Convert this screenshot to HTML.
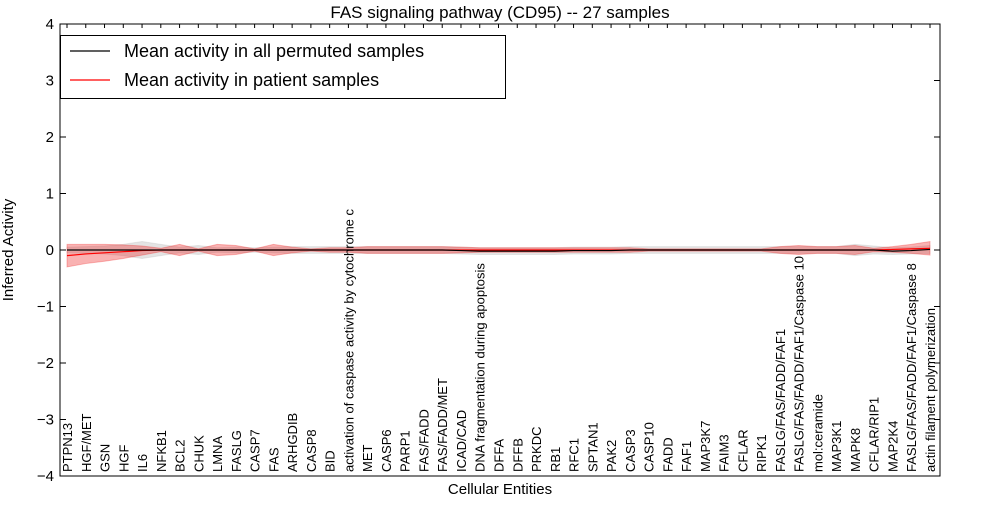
<!DOCTYPE html>
<html><head><meta charset="utf-8"><style>
body{margin:0;background:#fff;width:1000px;height:500px;overflow:hidden}
svg{font-family:"Liberation Sans","DejaVu Sans",sans-serif}
</style></head><body>
<svg id="chart" width="1000" height="500"></svg>
<script>
const categories=["PTPN13","HGF/MET","GSN","HGF","IL6","NFKB1","BCL2","CHUK","LMNA","FASLG","CASP7","FAS","ARHGDIB","CASP8","BID","activation of caspase activity by cytochrome c","MET","CASP6","PARP1","FAS/FADD","FAS/FADD/MET","ICAD/CAD","DNA fragmentation during apoptosis","DFFA","DFFB","PRKDC","RB1","RFC1","SPTAN1","PAK2","CASP3","CASP10","FADD","FAF1","MAP3K7","FAIM3","CFLAR","RIPK1","FASLG/FAS/FADD/FAF1","FASLG/FAS/FADD/FAF1/Caspase 10","mol:ceramide","MAP3K1","MAPK8","CFLAR/RIP1","MAP2K4","FASLG/FAS/FADD/FAF1/Caspase 8","actin filament polymerization"];
const redMean=[-0.1,-0.07,-0.05,-0.03,-0.01,0,0,0,0,0,0,0,0,0,0,0,0,0,0,0,0,0,0,0,0,0,0,0,0,0,0,0,0,0,0,0,0,0,0,0,0,0,0,0,0.01,0.02,0.03];
const redSpread=[0.2,0.17,0.15,0.12,0.08,0.03,0.1,0.02,0.1,0.08,0.02,0.1,0.05,0.02,0.04,0.04,0.06,0.06,0.06,0.06,0.06,0.05,0.04,0.04,0.04,0.04,0.04,0.04,0.04,0.04,0.04,0.02,0.02,0.02,0.02,0.02,0.02,0.02,0.06,0.08,0.06,0.06,0.08,0.03,0.05,0.08,0.12];
const grayMean=[0,0,0,0,0,0,0,0,0,0,0,0,0,0,0,0,0,0,0,0,0,-0.01,-0.02,-0.02,-0.02,-0.02,-0.02,-0.01,-0.01,-0.01,0,0,0,0,0,0,0,0,0,0,0,0,0,0,-0.02,-0.01,0.01];
const graySpread=[0.05,0.06,0.07,0.1,0.15,0.1,0.05,0.08,0.04,0.05,0.04,0.05,0.06,0.06,0.06,0.06,0.06,0.06,0.06,0.06,0.06,0.06,0.06,0.06,0.06,0.06,0.06,0.06,0.06,0.06,0.06,0.06,0.06,0.06,0.06,0.06,0.06,0.06,0.06,0.06,0.06,0.06,0.1,0.07,0.06,0.06,0.07];
const yTicks=[-4,-3,-2,-1,0,1,2,3,4];
const L=60,R=940,T=24,B=476;
const x=i=>67+i*(930-67)/(categories.length-1);
const y=v=>B-(v+4)/8*(B-T);
const svg=document.getElementById('chart');
const NS='http://www.w3.org/2000/svg';
function mk(tag,attrs,text){const e=document.createElementNS(NS,tag);for(const k in attrs)e.setAttribute(k,attrs[k]);if(text!==undefined)e.textContent=text;svg.appendChild(e);return e;}
function band(mean,spread,fill,op,name){
 let d='';mean.forEach((m,i)=>{d+=(i?'L':'M')+x(i)+','+y(m+spread[i]);});
 for(let i=mean.length-1;i>=0;i--)d+='L'+x(i)+','+y(mean[i]-spread[i]);
 const p=mk('path',{d:d+'Z',fill:fill,'fill-opacity':op,stroke:fill,'stroke-opacity':0.3});
 
 
}
function line(vals,col,name){
 const p=mk('polyline',{points:vals.map((v,i)=>x(i)+','+y(v)).join(' '),fill:'none',stroke:col,'stroke-width':1.2});
 
 
}
band(grayMean,graySpread,'#bbbbbb',0.4,'permuted-band');
band(redMean,redSpread,'#ee2222',0.35,'patient-band');
line(redMean,'#ff0000','patient-mean-line');
line(grayMean,'#000000','permuted-mean-line');
const fr=mk('rect',{x:L,y:T,width:R-L,height:B-T,fill:'none',stroke:'#000'});

yTicks.forEach(v=>{
 mk('line',{x1:L,x2:L+6,y1:y(v),y2:y(v),stroke:'#000'});
 mk('line',{x1:R-6,x2:R,y1:y(v),y2:y(v),stroke:'#000'});
 const t=mk('text',{x:L-6,y:y(v)+5,'text-anchor':'end','font-size':15},(v<0?'\u2212':'')+Math.abs(v));
 
});
categories.forEach((c,i)=>{
 mk('line',{x1:x(i),x2:x(i),y1:T,y2:T+4,stroke:'#000'});
 const t=mk('text',{transform:`translate(${x(i)+5},472) rotate(-90)`,'font-size':13},c);
 
});
let t=mk('text',{x:500,y:18,'text-anchor':'middle','font-size':17},'FAS signaling pathway (CD95) -- 27 samples');

t=mk('text',{x:500,y:494,'text-anchor':'middle','font-size':15},'Cellular Entities');

t=mk('text',{transform:'translate(13,250) rotate(-90)','text-anchor':'middle','font-size':15},'Inferred Activity');

const lg=mk('rect',{x:60.5,y:35.5,width:445,height:63,fill:'#fff',stroke:'#000'});

mk('line',{x1:70,x2:110,y1:51,y2:51,stroke:'#000','stroke-width':1.2});
t=mk('text',{x:124,y:57,'font-size':18},'Mean activity in all permuted samples');

mk('line',{x1:70,x2:110,y1:80,y2:80,stroke:'#f00','stroke-width':1.2});
t=mk('text',{x:124,y:86,'font-size':18},'Mean activity in patient samples');

</script>
</body></html>
